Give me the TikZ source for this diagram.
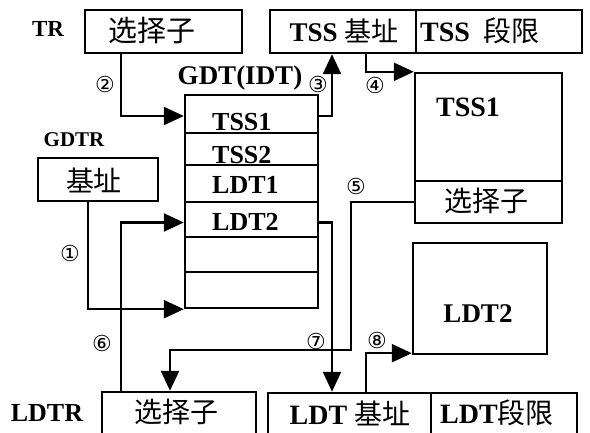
\documentclass[tikz,border=0pt]{standalone}
\usepackage{fontspec}
\setmainfont{Liberation Serif}
\newfontfamily\cjk{Noto Sans CJK SC}
\newfontfamily\sym{DejaVu Sans}
\usetikzlibrary{arrows.meta}
\newcommand{\fsz}[1]{\fontsize{#1}{#1}\selectfont}
\begin{document}
\begin{tikzpicture}[x=1pt,y=-1pt,
  bx/.style={draw, line width=2.4pt, inner sep=0pt},
  lt/.style={font=\bfseries\fsz{26}, inner sep=0pt},
  ch/.style={font=\cjk\fsz{28}, inner sep=0pt},
  nm/.style={font=\sym\fsz{22}, inner sep=0pt},
  arr/.style={line width=2.4pt, -{Triangle[length=20pt,width=18pt]}}]
\useasboundingbox (0,0) rectangle (590,433);
\clip (0,0) rectangle (590,433);
% top boxes
\node[bx, minimum width=157pt, minimum height=43pt] (tr) at (163.5,31.5) {};
\node[ch, font=\cjk\fsz{29}] (trt) at (152,31) {选择子};
\node[lt, font=\bfseries\fsz{23}] (trl) at (48,29) {TR};
\node[bx, minimum width=146pt, minimum height=43pt] (tssb) at (343,31.5) {};
\node[lt, font=\bfseries\fsz{27}] (tssbt) at (344,31) {TSS {\cjk\mdseries\fsz{27}基址}};
\node[bx, minimum width=166pt, minimum height=43pt] (tssl) at (499,31.5) {};
\node[lt, font=\bfseries\fsz{28}] (tsslt) at (480,31) {TSS\ \ {\cjk\mdseries\fsz{28}段限}};
% GDTR
\node[lt, font=\bfseries\fsz{21}] (gdtrl) at (74,140) {GDTR};
\node[bx, minimum width=120pt, minimum height=43pt] (gdtr) at (98,179.5) {};
\node[ch] (gdtrt) at (94,180) {基址};
% GDT table
\node[lt, font=\bfseries\fsz{27}] (gdtl) at (240,78) {GDT(IDT)};
\node[bx, minimum width=133pt, minimum height=38pt] (r1) at (251.5,114) {};
\node[bx, minimum width=133pt, minimum height=32pt] (r2) at (251.5,149) {};
\node[bx, minimum width=133pt, minimum height=37pt] (r3) at (251.5,183.5) {};
\node[bx, minimum width=133pt, minimum height=35pt] (r4) at (251.5,219.5) {};
\node[bx, minimum width=133pt, minimum height=35pt] (r5) at (251.5,254.5) {};
\node[bx, minimum width=133pt, minimum height=36pt] (r6) at (251.5,290) {};
\node[lt, anchor=west] (t1) at (212,122) {TSS1};
\node[lt, anchor=west] (t2) at (212,155) {TSS2};
\node[lt, anchor=west] (t3) at (212,185) {LDT1};
\node[lt, anchor=west] (t4) at (212,222) {LDT2};
% TSS1 box
\node[bx, minimum width=147pt, minimum height=108pt] (tss1) at (488.5,127) {};
\node[bx, minimum width=147pt, minimum height=42pt] (sel) at (488.5,202) {};
\node[lt, font=\bfseries\fsz{28}] (tss1t) at (468,107) {TSS1};
\node[ch] (selt) at (486,201) {选择子};
% LDT2 box
\node[bx, minimum width=134pt, minimum height=111pt] (ldt2) at (480,298.5) {};
\node[lt, font=\bfseries\fsz{27}] (ldt2t) at (478,314) {LDT2};
% bottom boxes
\node[lt, font=\bfseries\fsz{26}] (ldtrl) at (47,413) {LDTR};
\node[bx, minimum width=154pt, minimum height=56pt] (ldtr) at (179,420) {};
\node[ch] (ldtrt) at (176,412) {选择子};
\node[bx, minimum width=163pt, minimum height=56pt] (ldtb) at (349.5,421) {};
\node[lt, font=\bfseries\fsz{28}] (ldtbt) at (350,413) {LDT {\cjk\mdseries\fsz{28}基址}};
\node[bx, minimum width=146pt, minimum height=56pt] (ldtl) at (504,421) {};
\node[lt, font=\bfseries\fsz{28}] (ldtlt) at (497,413) {LDT{\cjk\mdseries\fsz{28}段限}};
% connectors
\draw[arr] ([xshift=-10pt]gdtr.south) |- (r6.south west);
\draw[arr] ([xshift=-42.5pt]tr.south) |- ([yshift=-2pt]r1.west);
\draw[arr] ([yshift=-2pt]r1.east) -| ([xshift=-11pt]tssb.south);
\draw[arr] ([xshift=23pt]tssb.south) |- (tss1.north west);
\coordinate (k5) at (351,350);
\draw[arr] (sel.west) -| (k5) -| ([xshift=-9pt]ldtr.north);
\draw[arr] ([xshift=-58pt]ldtr.north) |- ([yshift=-3pt]r4.west);
\draw[arr] ([yshift=-3pt]r4.east) -| ([xshift=-17.5pt]ldtb.north);
\draw[arr] ([xshift=16.5pt]ldtb.north) |- ([yshift=2pt]ldt2.south west);
% numbers
\node[nm] (n1) at (70,253) {①};
\node[nm] (n2) at (105,84) {②};
\node[nm] (n3) at (318,84) {③};
\node[nm] (n4) at (375,85) {④};
\node[nm] (n5) at (356,186) {⑤};
\node[nm] (n6) at (102,343) {⑥};
\node[nm] (n7) at (316,341) {⑦};
\node[nm] (n8) at (377,340) {⑧};
\end{tikzpicture}
\end{document}
